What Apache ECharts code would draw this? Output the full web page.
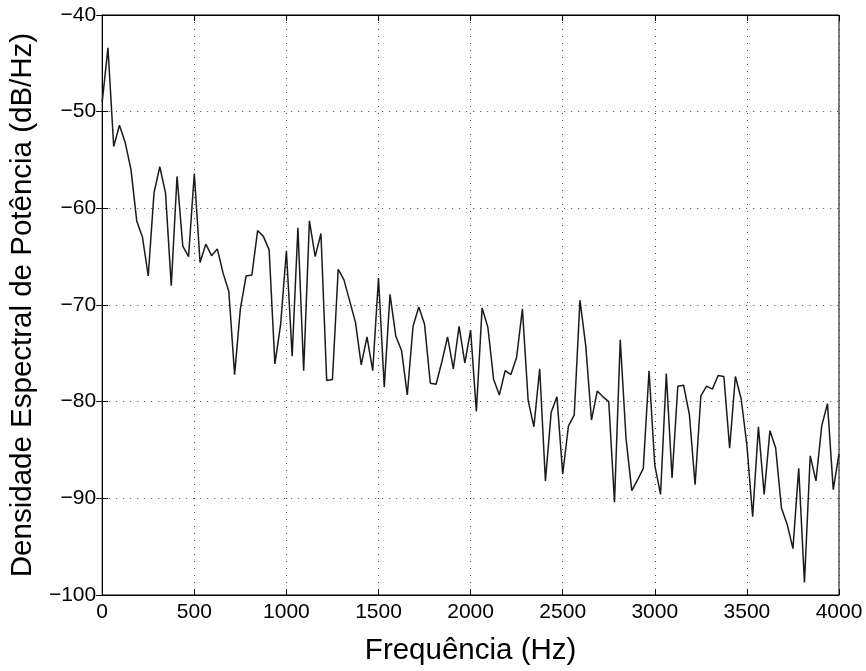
<!DOCTYPE html>
<html>
<head>
<meta charset="utf-8">
<script src="https://cdn.jsdelivr.net/npm/echarts@6/dist/echarts.min.js"></script>
<style>
html,body{margin:0;padding:0;background:#fff;}
#chart{width:866px;height:671px;}
</style>
</head>
<body>
<div id="chart"></div>
<script>
// Frequency bins (Hz)
const frequencies = [
  0, 31.25, 62.5, 93.75, 125, 156.25, 187.5, 218.75, 250, 281.25, 312.5, 343.75, 375, 406.25, 437.5, 468.75,
  500, 531.25, 562.5, 593.75, 625, 656.25, 687.5, 718.75, 750, 781.25, 812.5, 843.75, 875, 906.25, 937.5, 968.75,
  1000, 1031.25, 1062.5, 1093.75, 1125, 1156.25, 1187.5, 1218.75, 1250, 1281.25, 1312.5, 1343.75, 1375, 1406.25, 1437.5, 1468.75,
  1500, 1531.25, 1562.5, 1593.75, 1625, 1656.25, 1687.5, 1718.75, 1750, 1781.25, 1812.5, 1843.75, 1875, 1906.25, 1937.5, 1968.75,
  2000, 2031.25, 2062.5, 2093.75, 2125, 2156.25, 2187.5, 2218.75, 2250, 2281.25, 2312.5, 2343.75, 2375, 2406.25, 2437.5, 2468.75,
  2500, 2531.25, 2562.5, 2593.75, 2625, 2656.25, 2687.5, 2718.75, 2750, 2781.25, 2812.5, 2843.75, 2875, 2906.25, 2937.5, 2968.75,
  3000, 3031.25, 3062.5, 3093.75, 3125, 3156.25, 3187.5, 3218.75, 3250, 3281.25, 3312.5, 3343.75, 3375, 3406.25, 3437.5, 3468.75,
  3500, 3531.25, 3562.5, 3593.75, 3625, 3656.25, 3687.5, 3718.75, 3750, 3781.25, 3812.5, 3843.75, 3875, 3906.25, 3937.5, 3968.75,
  4000
];
// Power spectral density (dB/Hz)
const psd = [
  -49.0, -43.4, -53.6, -51.4, -53.2, -56.0, -61.3, -63.0, -67.0, -58.4, -55.7, -58.4, -68.0, -56.7, -63.9, -65.0,
  -56.4, -65.6, -63.7, -64.9, -64.2, -66.7, -68.6, -77.2, -70.4, -67.0, -66.9, -62.3, -62.9, -64.3, -76.1, -72.0,
  -64.4, -75.3, -62.0, -76.8, -61.3, -65.0, -62.6, -77.8, -77.7, -66.3, -67.4, -69.6, -71.8, -76.2, -73.3, -76.8,
  -67.2, -78.5, -68.9, -73.2, -74.7, -79.3, -72.2, -70.2, -72.0, -78.1, -78.2, -75.9, -73.3, -76.6, -72.2, -76.0,
  -72.6, -81.0, -70.3, -72.3, -77.7, -79.3, -76.8, -77.2, -75.4, -70.4, -79.9, -82.6, -76.6, -88.2, -81.1, -79.5,
  -87.5, -82.5, -81.4, -69.5, -74.2, -81.9, -78.9, -79.5, -80.0, -90.4, -73.6, -83.8, -89.2, -88.1, -86.9, -76.8,
  -86.6, -89.6, -77.1, -87.9, -78.4, -78.3, -81.3, -88.6, -79.4, -78.4, -78.7, -77.3, -77.4, -84.8, -77.4, -79.7,
  -84.5, -91.9, -82.6, -89.6, -83.0, -84.8, -91.0, -92.7, -95.2, -86.9, -98.7, -85.6, -88.2, -82.5, -80.2, -89.1,
  -85.4
];
const xTicks = [0, 500, 1000, 1500, 2000, 2500, 3000, 3500, 4000];
const yTicks = [-100, -90, -80, -70, -60, -50, -40];
const xTitle = 'Frequência (Hz)';
const yTitle = 'Densidade Espectral de Potência (dB/Hz)';

const FONT = '"Liberation Sans", Arial, Helvetica, sans-serif';
const chart = echarts.init(document.getElementById('chart'), null, {renderer: 'canvas'});
const seriesData = frequencies.map((f, i) => [f, psd[i]]);
const grid = {left: 101, right: 27, top: 15, bottom: 74, show: true, borderColor: '#000', borderWidth: 1, backgroundColor: '#fff'};
const gridLine = {show: true, lineStyle: {color: '#444', width: 1, type: [1, 6]}};
const tick = {show: true, inside: true, length: 6, lineStyle: {color: '#000', width: 1}};
const xMin = xTicks[0], xMax = xTicks[xTicks.length - 1], xInt = xTicks[1] - xTicks[0];
const yMin = yTicks[0], yMax = yTicks[yTicks.length - 1], yInt = yTicks[1] - yTicks[0];
const fmt = v => String(v).replace('-', '\u2212');

chart.setOption({
  animation: false,
  backgroundColor: '#fff',
  grid: grid,
  xAxis: [{
    type: 'value', min: xMin, max: xMax, interval: xInt, position: 'bottom',
    axisLine: {show: true, lineStyle: {color: '#000', width: 1}},
    axisTick: tick,
    axisLabel: {color: '#000', fontFamily: FONT, fontSize: 21, margin: 7, formatter: fmt},
    splitLine: gridLine,
    name: xTitle, nameLocation: 'middle', nameGap: 41,
    nameTextStyle: {color: '#000', fontFamily: FONT, fontSize: 29.5}
  }, {
    type: 'value', min: xMin, max: xMax, interval: xInt, position: 'top',
    axisLine: {show: true, lineStyle: {color: '#000', width: 1}},
    axisTick: tick, axisLabel: {show: false}, splitLine: {show: false}
  }],
  yAxis: [{
    type: 'value', min: yMin, max: yMax, interval: yInt, position: 'left',
    axisLine: {show: true, lineStyle: {color: '#000', width: 1}},
    axisTick: tick,
    axisLabel: {color: '#000', fontFamily: FONT, fontSize: 21, margin: 6, formatter: fmt},
    splitLine: gridLine,
    name: yTitle, nameLocation: 'middle', nameGap: 52, nameRotate: 90,
    nameTextStyle: {color: '#000', fontFamily: FONT, fontSize: 29.5}
  }, {
    type: 'value', min: yMin, max: yMax, interval: yInt, position: 'right',
    axisLine: {show: true, lineStyle: {color: '#000', width: 1}},
    axisTick: tick, axisLabel: {show: false}, splitLine: {show: false}
  }],
  series: [{
    type: 'line', data: seriesData, xAxisIndex: 0, yAxisIndex: 0,
    showSymbol: false, symbol: 'none', silent: true,
    lineStyle: {color: '#1a1a1a', width: 1.5}
  }]
});
</script>
</body>
</html>
